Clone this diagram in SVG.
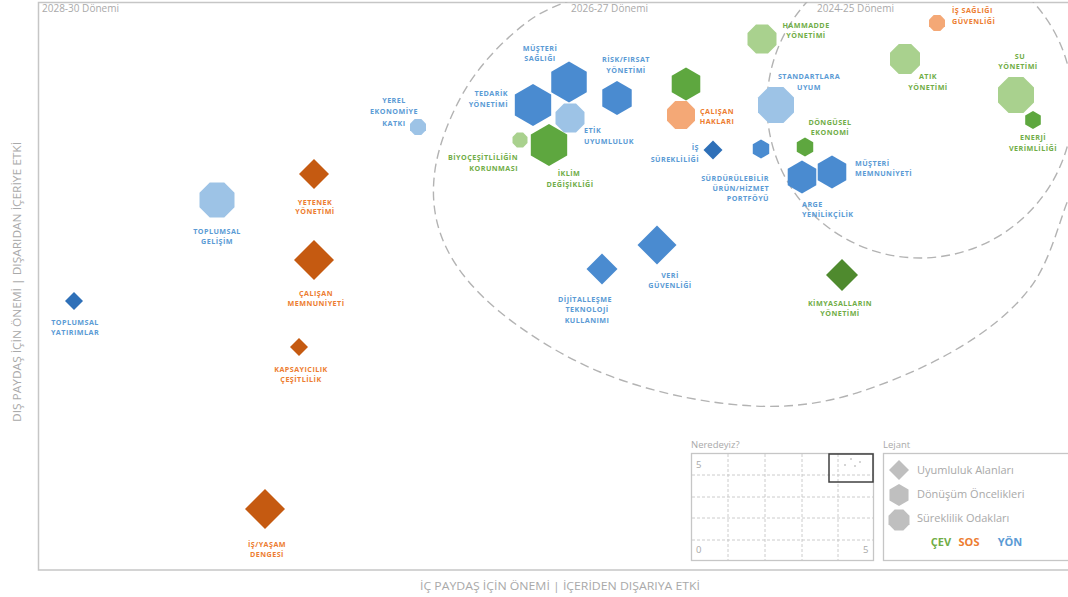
<svg xmlns="http://www.w3.org/2000/svg" xmlns:xlink="http://www.w3.org/1999/xlink" width="1068" height="597" viewBox="0 0 1068 597">
<style>
.bg{fill:#ffffff}
.frame{fill:none;stroke:#c6c6c6;stroke-width:1.5}
.period{font-family:"Open Sans","Liberation Sans",sans-serif;font-size:10px;fill:#a9a9a9}
.axis{font-family:"Open Sans","Liberation Sans",sans-serif;font-size:11px;fill:#a9a9a9}
.dash{fill:none;stroke:#b3b3b3;stroke-width:1.4;stroke-dasharray:9 5}
.lbl{font-family:"Open Sans","Liberation Sans",sans-serif;font-size:7.2px;font-weight:bold;letter-spacing:0.45px}
.lb{fill:#5b9bd5}.lo{fill:#ed7d31}.lg{fill:#70ad47}
.c{text-anchor:middle}.e{text-anchor:end}.s{text-anchor:start}
.fb{fill:#4a8bd0}.fdb{fill:#2f70b8}.flb{fill:#9dc3e6}
.fg{fill:#5ea73f}.flg{fill:#a9d18e}.fdg{fill:#4f8a2e}
.fo{fill:#c55a11}.flo{fill:#f4a876}
.lgnd{font-family:"Open Sans","Liberation Sans",sans-serif;font-size:11px;fill:#a9a9a9}
.lhead{font-family:"Open Sans","Liberation Sans",sans-serif;font-size:9.5px;fill:#a9a9a9}
.box{fill:#ffffff;stroke:#c6c6c6;stroke-width:1.3}
.grid{stroke:#c6c6c6;stroke-width:0.9;stroke-dasharray:3 2;fill:none}
.gsh{fill:#bfbfbf}
.key{font-family:"Open Sans","Liberation Sans",sans-serif;font-size:11px;font-weight:bold}
</style>
<defs>
<path id="hex" d="M0,-1 L0.866,-0.5 L0.866,0.5 L0,1 L-0.866,0.5 L-0.866,-0.5Z"/>
<path id="oct" d="M-0.414,-1 L0.414,-1 L1,-0.414 L1,0.414 L0.414,1 L-0.414,1 L-1,0.414 L-1,-0.414Z"/>
<path id="dia" d="M0,-1 L1,0 L0,1 L-1,0Z"/>
<clipPath id="plot"><rect x="38" y="2" width="1040" height="568"/></clipPath>
</defs>
<rect class="bg" x="0" y="0" width="1068" height="597"/>
<rect class="frame" x="38.5" y="2.5" width="1040" height="567.5"/>

<g id="periods">
<text class="period" x="42" y="12">2028-30 Dönemi</text>
<text class="period" x="571" y="12">2026-27 Dönemi</text>
<text class="period" x="817" y="12">2024-25 Dönemi</text>
</g>

<g id="connectors" clip-path="url(#plot)">
<path class="dash" d="M600,-10 C588.3,-5 552,4.2 530,20 C508,35.8 483.8,60 468,85 C452.2,110 438.8,143.3 435,170 C431.2,196.7 434.2,221.3 445,245 C455.8,268.7 474.2,290.8 500,312 C525.8,333.2 563.3,356.8 600,372 C636.7,387.2 681.7,398.3 720,403 C758.3,407.7 791.7,408.3 830,400 C868.3,391.7 916.7,371.7 950,353 C983.3,334.3 1010.3,313.5 1030,288 C1049.7,262.5 1058.8,223 1068,200 C1077.2,177 1082.2,158.3 1085,150"/>
<circle class="dash" cx="920" cy="105" r="153"/>
</g>

<g id="axes">
<text class="axis" x="560" y="590" text-anchor="middle" textLength="280" lengthAdjust="spacingAndGlyphs">İÇ PAYDAŞ İÇİN ÖNEMİ | İÇERİDEN DIŞARIYA ETKİ</text>
<text class="axis" transform="translate(21,282) rotate(-90)" text-anchor="middle" textLength="280" lengthAdjust="spacingAndGlyphs">DIŞ PAYDAŞ İÇİN ÖNEMİ | DIŞARIDAN İÇERİYE ETKİ</text>
</g>

<g id="n-toplumsal-yatirimlar">
<use href="#dia" class="fdb" transform="translate(74,301) scale(9)"/>
<text class="lbl lb c" x="75" y="324.5">TOPLUMSAL</text>
<text class="lbl lb c" x="75" y="334.5">YATIRIMLAR</text>
</g>
<g id="n-toplumsal-gelisim">
<use href="#oct" class="flb" transform="translate(217,200) scale(17.5)"/>
<text class="lbl lb c" x="217" y="233.5">TOPLUMSAL</text>
<text class="lbl lb c" x="217" y="243.5">GELİŞİM</text>
</g>
<g id="n-yetenek">
<use href="#dia" class="fo" transform="translate(314,174) scale(15)"/>
<text class="lbl lo c" x="315" y="204.5">YETENEK</text>
<text class="lbl lo c" x="315" y="213.5">YÖNETİMİ</text>
</g>
<g id="n-calisan-memnuniyeti">
<use href="#dia" class="fo" transform="translate(314,260) scale(20)"/>
<text class="lbl lo c" x="316" y="295.5">ÇALIŞAN</text>
<text class="lbl lo c" x="316" y="305.5">MEMNUNİYETİ</text>
</g>
<g id="n-kapsayicilik">
<use href="#dia" class="fo" transform="translate(299,347) scale(9)"/>
<text class="lbl lo c" x="301" y="371.5">KAPSAYICILIK</text>
<text class="lbl lo c" x="301" y="381.5">ÇEŞİTLİLİK</text>
</g>
<g id="n-is-yasam">
<use href="#dia" class="fo" transform="translate(265,509) scale(20)"/>
<text class="lbl lo c" x="267" y="546.5">İŞ/YAŞAM</text>
<text class="lbl lo c" x="267" y="556.5">DENGESİ</text>
</g>
<g id="n-yerel-ekonomi">
<use href="#oct" class="flb" transform="translate(418,127) scale(8)"/>
<text class="lbl lb c" x="394" y="102.5">YEREL</text>
<text class="lbl lb c" x="394" y="114">EKONOMİYE</text>
<text class="lbl lb c" x="394" y="125.5">KATKI</text>
</g>
<g id="n-tedarik">
<use href="#hex" class="fb" transform="translate(533,105) scale(21)"/>
<text class="lbl lb e" x="508" y="96">TEDARİK</text>
<text class="lbl lb e" x="508" y="107">YÖNETİMİ</text>
</g>
<g id="n-musteri-sagligi">
<use href="#hex" class="fb" transform="translate(569,82) scale(20.5)"/>
<text class="lbl lb c" x="540" y="50.5">MÜŞTERİ</text>
<text class="lbl lb c" x="540" y="61">SAĞLIĞI</text>
</g>
<g id="n-risk">
<use href="#hex" class="fb" transform="translate(617,98) scale(17)"/>
<text class="lbl lb c" x="626" y="61.5">RİSK/FIRSAT</text>
<text class="lbl lb c" x="626" y="72.5">YÖNETİMİ</text>
</g>
<g id="n-etik">
<use href="#oct" class="flb" transform="translate(570,118) scale(14.5)"/>
<text class="lbl lb s" x="584" y="132.5">ETİK</text>
<text class="lbl lb s" x="584" y="143.5">UYUMLULUK</text>
</g>
<g id="n-biyocesitlilik">
<use href="#oct" class="flg" transform="translate(520,140) scale(7.5)"/>
<text class="lbl lg e" x="518" y="159.5">BİYOÇEŞİTLİLİĞİN</text>
<text class="lbl lg e" x="518" y="170.5">KORUNMASI</text>
</g>
<g id="n-iklim">
<use href="#hex" class="fg" transform="translate(549,145) scale(21)"/>
<text class="lbl lg c" x="569" y="175.5">İKLİM</text>
<text class="lbl lg c" x="570" y="186.5">DEĞİŞİKLİĞİ</text>
</g>
<g id="n-green-hex">
<use href="#hex" class="fg" transform="translate(686,84) scale(16.5)"/>
</g>
<g id="n-calisan-haklari">
<use href="#oct" class="flo" transform="translate(681,115) scale(14)"/>
<text class="lbl lo c" x="717" y="113.5">ÇALIŞAN</text>
<text class="lbl lo c" x="717" y="123.5">HAKLARI</text>
</g>
<g id="n-is-surekliligi">
<use href="#dia" class="fdb" transform="translate(713,150) scale(9.5)"/>
<text class="lbl lb e" x="699" y="149.5">İŞ</text>
<text class="lbl lb e" x="699" y="161.5">SÜREKLİLİĞİ</text>
</g>
<g id="n-surdurulebilir">
<use href="#hex" class="fb" transform="translate(761,149) scale(9.5)"/>
<text class="lbl lb e" x="769" y="180.5">SÜRDÜRÜLEBİLİR</text>
<text class="lbl lb e" x="769" y="190.5">ÜRÜN/HİZMET</text>
<text class="lbl lb e" x="769" y="200.5">PORTFÖYÜ</text>
</g>
<g id="n-standartlara">
<use href="#oct" class="flb" transform="translate(776,105) scale(18)"/>
<text class="lbl lb c" x="809" y="78.5">STANDARTLARA</text>
<text class="lbl lb c" x="809" y="89.5">UYUM</text>
</g>
<g id="n-dongusel">
<use href="#hex" class="fg" transform="translate(805,147) scale(9.5)"/>
<text class="lbl lg c" x="830" y="124.5">DÖNGÜSEL</text>
<text class="lbl lg c" x="830" y="134.5">EKONOMİ</text>
</g>
<g id="n-arge">
<use href="#hex" class="fb" transform="translate(802,177) scale(16.5)"/>
<text class="lbl lb s" x="802" y="206.5">ARGE</text>
<text class="lbl lb s" x="802" y="216.5">YENİLİKÇİLİK</text>
</g>
<g id="n-musteri-memnuniyeti">
<use href="#hex" class="fb" transform="translate(832,172) scale(16.5)"/>
<text class="lbl lb s" x="855" y="165.5">MÜŞTERİ</text>
<text class="lbl lb s" x="855" y="175.5">MEMNUNİYETİ</text>
</g>
<g id="n-hammadde">
<use href="#oct" class="flg" transform="translate(762,39) scale(14.5)"/>
<text class="lbl lg c" x="806" y="27.5">HAMMADDE</text>
<text class="lbl lg c" x="806" y="37.5">YÖNETİMİ</text>
</g>
<g id="n-is-sagligi">
<use href="#oct" class="flo" transform="translate(937,23) scale(8)"/>
<text class="lbl lo s" x="952" y="12.5">İŞ SAĞLIĞI</text>
<text class="lbl lo s" x="952" y="23.5">GÜVENLİĞİ</text>
</g>
<g id="n-atik">
<use href="#oct" class="flg" transform="translate(905,59) scale(15)"/>
<text class="lbl lg c" x="928" y="78.5">ATIK</text>
<text class="lbl lg c" x="928" y="89.5">YÖNETİMİ</text>
</g>
<g id="n-su">
<use href="#oct" class="flg" transform="translate(1016,95) scale(18)"/>
<text class="lbl lg c" x="1020" y="58.5">SU</text>
<text class="lbl lg c" x="1018" y="68.5">YÖNETİMİ</text>
</g>
<g id="n-enerji">
<use href="#hex" class="fg" transform="translate(1033,120) scale(9)"/>
<text class="lbl lg c" x="1033" y="139.5">ENERJİ</text>
<text class="lbl lg c" x="1033" y="150.5">VERİMLİLİĞİ</text>
</g>
<g id="n-veri">
<use href="#dia" class="fb" transform="translate(657,245) scale(19.5)"/>
<text class="lbl lb c" x="670" y="277.5">VERİ</text>
<text class="lbl lb c" x="670" y="287.5">GÜVENLİĞİ</text>
</g>
<g id="n-dijital">
<use href="#dia" class="fb" transform="translate(602,269) scale(15.5)"/>
<text class="lbl lb c" x="585" y="301.5">DİJİTALLEŞME</text>
<text class="lbl lb c" x="587" y="311.5">TEKNOLOJİ</text>
<text class="lbl lb c" x="587" y="322.5">KULLANIMI</text>
</g>
<g id="n-kimyasal">
<use href="#dia" class="fdg" transform="translate(842,275) scale(16)"/>
<text class="lbl lg c" x="840" y="305.5">KİMYASALLARIN</text>
<text class="lbl lg c" x="840" y="315.5">YÖNETİMİ</text>
</g>

<g id="neredeyiz">
<text class="lhead" x="691" y="448">Neredeyiz?</text>
<rect class="box" x="691.5" y="453.5" width="182" height="107"/>
<path class="grid" d="M728,454 V560 M765,454 V560 M802,454 V560 M838,454 V560 M692,475 H873 M692,497 H873 M692,518 H873 M692,540 H873"/>
<rect x="829" y="454" width="44" height="28" fill="none" stroke="#404040" stroke-width="1.5"/>
<circle cx="845" cy="465" r="0.8" fill="#a0a0a0"/>
<circle cx="851" cy="459" r="0.8" fill="#a0a0a0"/>
<circle cx="855" cy="466" r="0.8" fill="#a0a0a0"/>
<circle cx="860" cy="462" r="0.8" fill="#a0a0a0"/>
<text class="lhead" x="696" y="468">5</text>
<text class="lhead" x="696" y="553">0</text>
<text class="lhead" x="863" y="553">5</text>
</g>

<g id="lejant">
<text class="lhead" x="883" y="448">Lejant</text>
<rect class="box" x="883.5" y="453.5" width="190" height="107"/>
<use href="#dia" class="gsh" transform="translate(899,470) scale(10)"/>
<text class="lgnd" x="917" y="474">Uyumluluk Alanları</text>
<use href="#hex" class="gsh" transform="translate(899,495) scale(11)"/>
<text class="lgnd" x="917" y="498">Dönüşüm Öncelikleri</text>
<use href="#oct" class="gsh" transform="translate(899,520) scale(10.5)"/>
<text class="lgnd" x="917" y="522">Süreklilik Odakları</text>
<text class="key c" x="941" y="546" fill="#70ad47">ÇEV</text>
<text class="key c" x="969" y="546" fill="#ed7d31">SOS</text>
<text class="key c" x="1010" y="546" fill="#5b9bd5">YÖN</text>
</g>
</svg>
